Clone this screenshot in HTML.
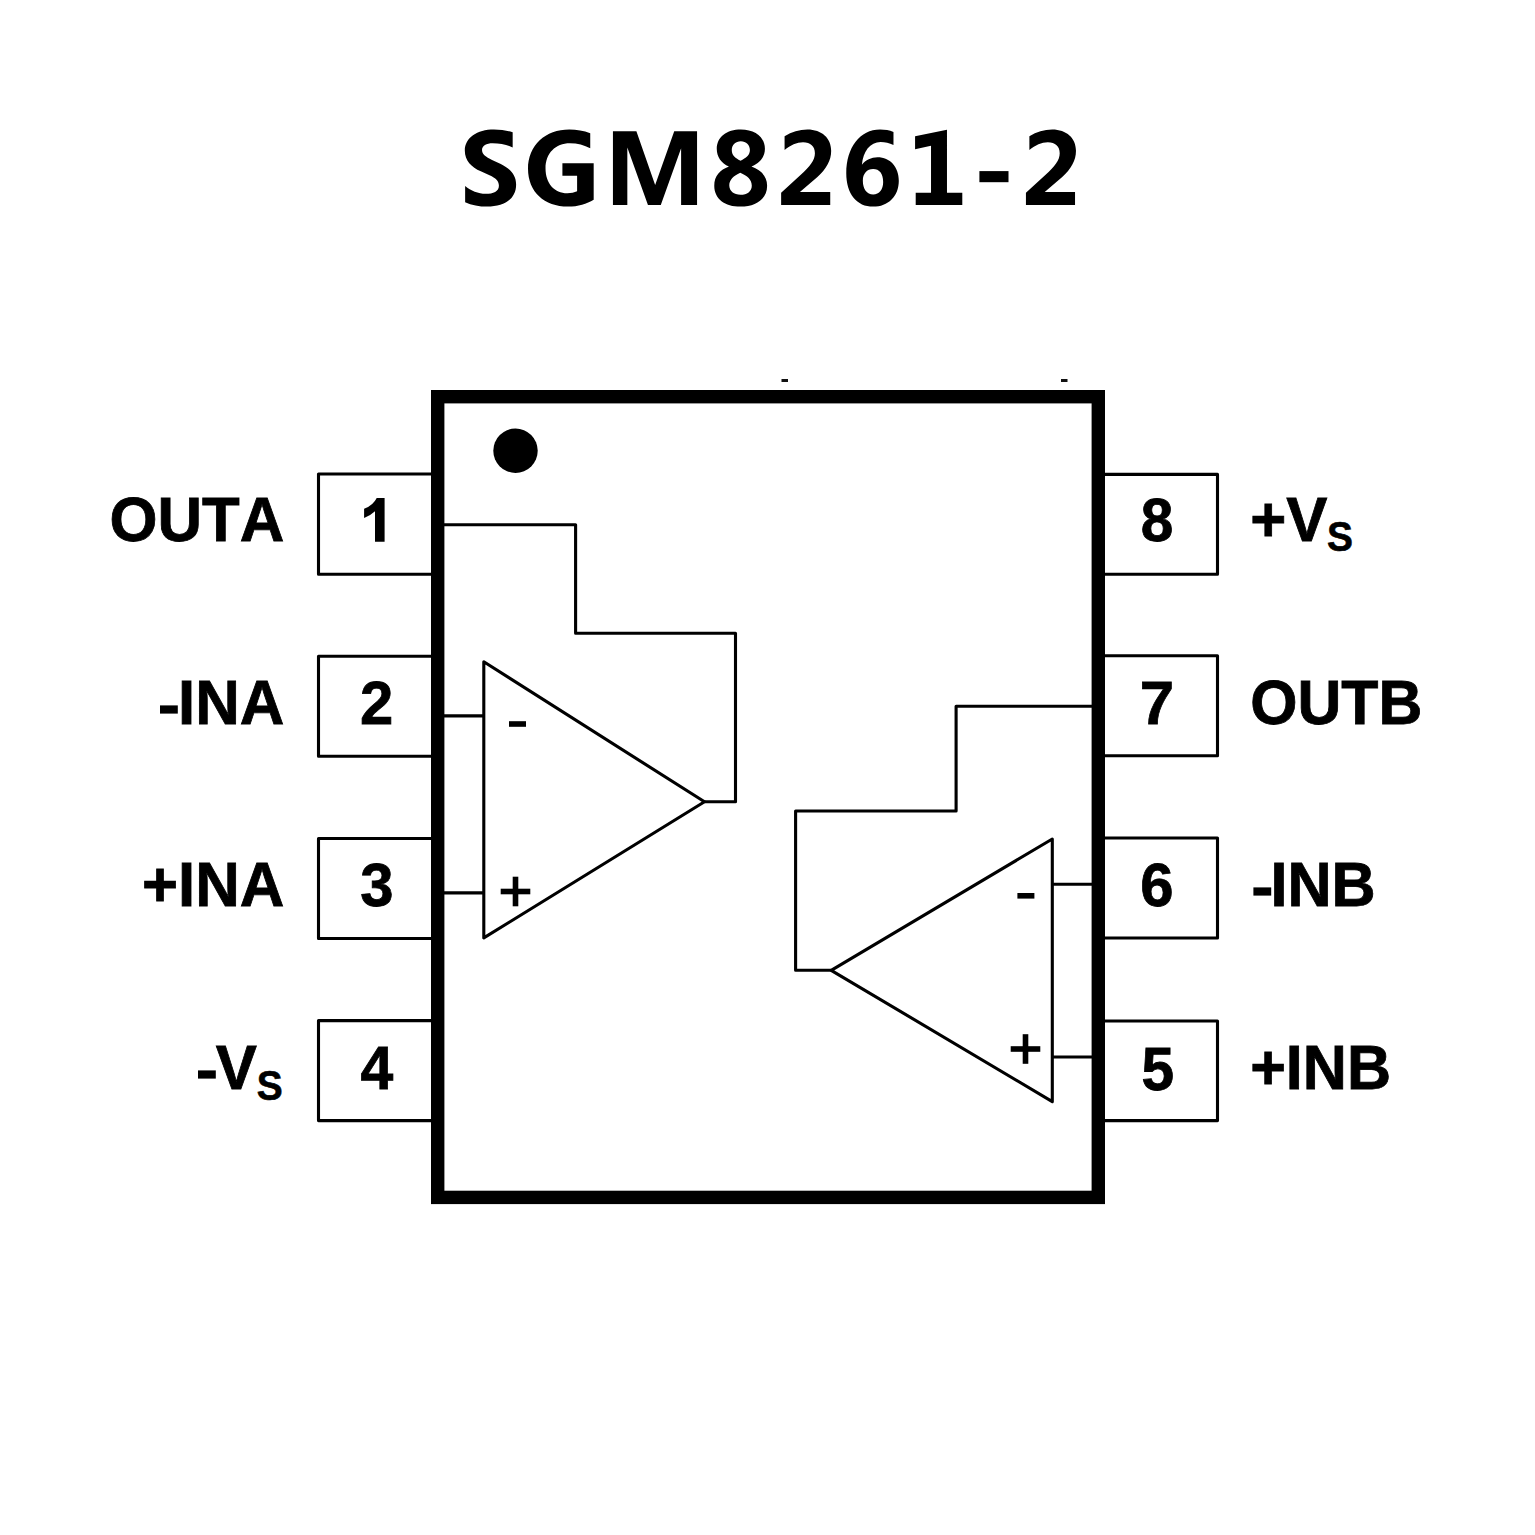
<!DOCTYPE html>
<html>
<head>
<meta charset="utf-8">
<title>SGM8261-2</title>
<style>
html,body{margin:0;padding:0;background:#fff;}
body{width:1535px;height:1535px;overflow:hidden;font-family:"Liberation Sans",sans-serif;}
svg{display:block;}
.b{font-family:"Liberation Sans",sans-serif;font-weight:bold;font-size:61.7px;fill:#000;font-kerning:none;stroke:#000;stroke-width:0.8px;stroke-linejoin:miter;}
.s{font-family:"Liberation Sans",sans-serif;font-weight:bold;font-size:41px;fill:#000;font-kerning:none;stroke:#000;stroke-width:0.6px;}
.t{font-family:"Liberation Sans",sans-serif;font-weight:bold;font-size:100px;fill:#000;}
.h{fill:none !important;stroke:none !important;}
.w{fill:none;stroke:#000;stroke-width:3.1;stroke-linejoin:round;stroke-linecap:butt;}
</style>
</head>
<body>
<svg width="1535" height="1535" viewBox="0 0 1535 1535">
<rect x="0" y="0" width="1535" height="1535" fill="#fff"/>

<!-- title -->
<g id="title" fill="#000" role="img" aria-label="SGM8261-2">
<text class="h" x="464" y="205" font-family="Liberation Sans, sans-serif" font-weight="bold" font-size="100" textLength="612">SGM8261-2</text>
<path transform="translate(442,120) scale(0.06254)" d="M1130,195 C1040,165 940,150 830,150 C560,150 365,280 365,490 C365,650 470,750 620,820 L760,885 C860,930 910,980 910,1050 C910,1140 820,1180 700,1180 C580,1180 460,1130 370,1055 L370,1315 C470,1365 600,1385 720,1385 C1000,1385 1185,1260 1185,1030 C1185,880 1090,780 940,705 L800,640 C700,590 640,550 640,480 C640,410 710,370 810,370 C930,370 1040,395 1130,440 Z"/>
<path transform="translate(513,120) scale(0.06254)" d="M1235,210 C1130,170 1020,150 900,150 C520,150 240,400 240,780 C240,1150 500,1385 880,1385 C1040,1385 1180,1340 1290,1275 L1290,690 L790,690 L790,890 L1025,890 L1025,1140 C980,1160 930,1170 870,1170 C660,1170 520,1010 520,770 C520,530 680,370 910,370 C1030,370 1140,400 1235,450 Z"/>
<path transform="translate(607,120) scale(0.06254)" d="M95,178 L470,178 L770,1040 L1075,178 L1440,178 L1440,1360 L1185,1360 L1185,450 L860,1360 L655,1360 L325,440 L325,1360 L95,1360 Z"/>
<path transform="translate(693,120) scale(0.06254)" d="M765,150 C990,150 1150,270 1150,460 C1150,590 1070,690 935,745 C1090,800 1185,900 1185,1050 C1185,1260 1010,1385 760,1385 C510,1385 340,1260 340,1050 C340,900 430,800 575,745 C450,690 380,590 380,460 C380,270 540,150 765,150 Z M765,340 C850,340 910,400 910,480 C910,560 850,610 760,650 C670,610 620,560 620,480 C620,400 680,340 765,340 Z M755,845 C870,890 940,960 940,1050 C940,1140 865,1195 760,1195 C655,1195 580,1140 580,1045 C580,960 650,890 755,845 Z" fill-rule="evenodd"/>
<path transform="translate(758,120) scale(0.06254)" d="M425,260 C540,190 660,152 790,152 C1020,152 1170,290 1170,490 C1170,650 1090,780 950,910 L670,1150 L1155,1150 L1155,1360 L370,1360 L370,1165 L680,880 C830,745 910,640 910,530 C910,420 840,355 720,355 C620,355 520,400 425,480 Z"/>
<path transform="translate(825,120) scale(0.06254)" d="M1095,190 C1030,165 960,152 880,152 C560,152 340,440 340,850 C340,1180 510,1385 770,1385 C1010,1385 1180,1220 1180,970 C1180,750 1040,595 840,595 C740,595 650,640 590,715 C610,500 720,350 890,350 C960,350 1030,370 1095,400 Z M770,785 C870,785 930,860 930,990 C930,1110 870,1190 770,1190 C670,1190 605,1100 605,970 C605,860 670,785 770,785 Z" fill-rule="evenodd"/>
<path transform="translate(891,120) scale(0.06254)" d="M385,260 L895,155 L895,1165 L1140,1165 L1140,1360 L395,1360 L395,1165 L640,1165 L640,410 L385,468 Z"/>
<rect x="979.4" y="171.1" width="29.1" height="11.1"/>
<path transform="translate(1002.8,120) scale(0.06254)" d="M425,260 C540,190 660,152 790,152 C1020,152 1170,290 1170,490 C1170,650 1090,780 950,910 L670,1150 L1155,1150 L1155,1360 L370,1360 L370,1165 L680,880 C830,745 910,640 910,530 C910,420 840,355 720,355 C620,355 520,400 425,480 Z"/>
</g>

<!-- artifacts -->
<rect x="781.5" y="379" width="6.5" height="3" fill="#111"/>
<rect x="1061" y="379" width="6.5" height="3" fill="#111"/>

<!-- pins left -->
<g class="w">
<rect x="318.5" y="474" width="118" height="100.3"/>
<rect x="318.5" y="656.2" width="118" height="100"/>
<rect x="318.5" y="838.5" width="118" height="100"/>
<rect x="318.5" y="1020.6" width="118" height="100"/>
<!-- pins right -->
<rect x="1099" y="474.4" width="118.5" height="99.8"/>
<rect x="1099" y="655.8" width="118.5" height="100"/>
<rect x="1099" y="838" width="118.5" height="100"/>
<rect x="1099" y="1021" width="118.5" height="99.6"/>
</g>

<!-- chip body -->
<rect x="437.7" y="396.7" width="660.6" height="800.7" fill="#fff" stroke="#000" stroke-width="13.4"/>
<circle cx="515.5" cy="450.7" r="22.2" fill="#000"/>

<!-- wires -->
<g class="w">
<polyline points="444,524.7 575.6,524.7 575.6,633.3 735.5,633.3 735.5,801.8 704.5,801.8"/>
<line x1="444" y1="715.9" x2="484" y2="715.9"/>
<line x1="444" y1="892.9" x2="484" y2="892.9"/>
<polygon points="483.8,661.8 704.5,801.8 483.8,937.9"/>
<polyline points="1092,706.3 956.1,706.3 956.1,811 795.6,811 795.6,970.3 831.2,970.3"/>
<line x1="1052.3" y1="884.3" x2="1092" y2="884.3"/>
<line x1="1052.3" y1="1057" x2="1092" y2="1057"/>
<polygon points="1052.3,839 831.2,970.3 1052.3,1101.6"/>
</g>

<!-- plus / minus -->
<g fill="#000">
<rect x="509" y="721.2" width="17" height="5.6"/>
<rect x="500.7" y="888.7" width="29.6" height="5.6"/>
<rect x="512.7" y="876.7" width="5.6" height="29.6"/>
<rect x="1017.4" y="893" width="17" height="5.6"/>
<rect x="1010.7" y="1046.2" width="29.6" height="5.6"/>
<rect x="1022.7" y="1034.2" width="5.6" height="29.6"/>
</g>

<!-- pin numbers -->
<g class="b">
<text class="h" transform="translate(376.5,541.1)" text-anchor="middle">1</text>
<path d="M376.7,497.9 L384.6,497.9 L384.6,541.7 L375,541.7 L375,511.3 Q370.3,515.8 364.1,517.9 L364.1,508.7 Q373.3,505.2 376.7,497.9 Z" fill="#000" stroke="none"/>
<text transform="translate(376.6,724.1) scale(0.97,1)" text-anchor="middle">2</text>
<text transform="translate(376.9,906.1) scale(0.97,1)" text-anchor="middle">3</text>
<text transform="translate(376.8,1089.1) scale(0.955,1)" text-anchor="middle">4</text>
<text transform="translate(1157.1,541.1) scale(0.95,1)" text-anchor="middle">8</text>
<text transform="translate(1157,724.1) scale(1,1)" text-anchor="middle">7</text>
<text transform="translate(1157,906.1) scale(0.97,1)" text-anchor="middle">6</text>
<text transform="translate(1157.7,1090.1) scale(0.95,1)" text-anchor="middle">5</text>
</g>
<!-- labels left -->
<g class="b">
<text transform="translate(284.3,540.8) scale(1,1.012)" text-anchor="end">OUTA</text>
<rect x="160.0" y="705.4" width="17.8" height="8.2" stroke="none"/>
<text transform="translate(284.3,724.1) scale(1,1.012)" text-anchor="end"><tspan class="h">-</tspan>INA</text>
<text transform="translate(284.3,906.1) scale(1,1.012)" text-anchor="end">+INA</text>
<rect x="198.0" y="1070.4" width="17.8" height="8.2" stroke="none"/>
<text transform="translate(256.9,1089.1) scale(1,1.012)" text-anchor="end"><tspan class="h">-</tspan>V</text>
<text class="s" transform="translate(256.8,1099.5) scale(0.95,1.02)" text-anchor="start">S</text>
</g>
<!-- labels right -->
<g class="b">
<text transform="translate(1250.2,540.8) scale(1,1.012)" text-anchor="start">+V</text>
<text class="s" transform="translate(1327.0,550.8) scale(0.95,1.02)" text-anchor="start">S</text>
<text transform="translate(1250.2,724.1) scale(0.985,1.012)" text-anchor="start">OUTB</text>
<rect x="1253.4" y="887.4" width="17.8" height="8.2" stroke="none"/>
<text transform="translate(1250.2,906.1) scale(0.99,1.012)" text-anchor="start"><tspan class="h">-</tspan>INB</text>
<text transform="translate(1250.2,1089.1) scale(0.99,1.012)" text-anchor="start">+INB</text>
</g>
</svg>
</body>
</html>
